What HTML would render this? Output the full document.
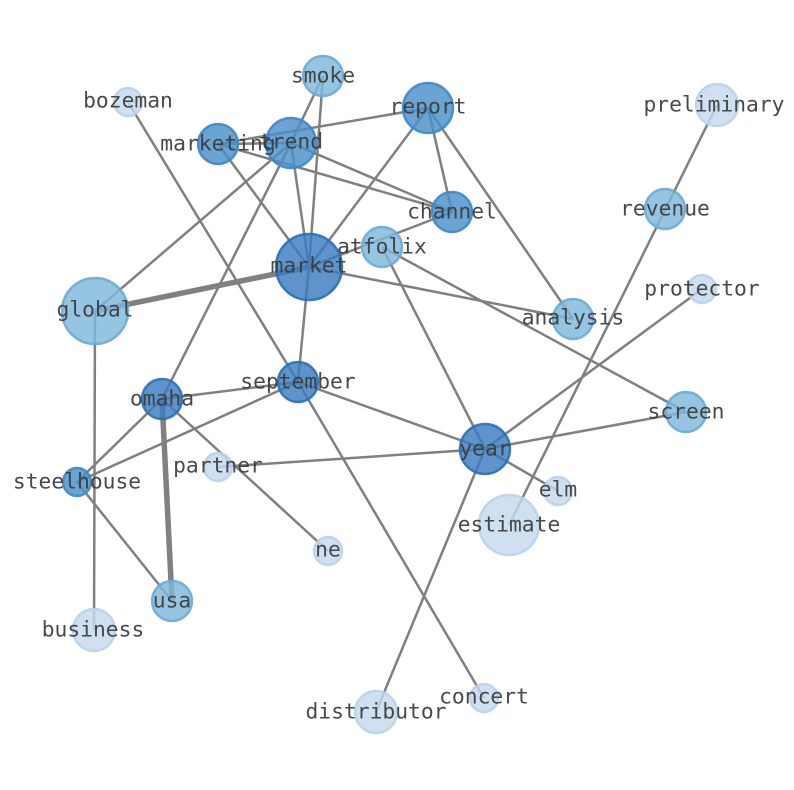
<!DOCTYPE html>
<html><head><meta charset="utf-8"><style>
html,body{margin:0;padding:0;background:#fff;}
svg{display:block;}
text{font-family:"DejaVu Sans Mono","Liberation Mono",monospace;font-size:21.3px;fill:#3a3a3a;fill-opacity:0.92;text-anchor:middle;dominant-baseline:central;}
.e{stroke:#808080;stroke-width:2.5;}
.t{stroke:#808080;stroke-width:5.5;}
.d{fill:#3a7dc0;stroke:#2a70b2;}
.m{fill:#4b90c8;stroke:#3d88c6;}
.l{fill:#7fb8dc;stroke:#6aabd6;}
.v{fill:#c4d9ee;stroke:#b9d2eb;}
circle{stroke-width:2.5;fill-opacity:0.82;stroke-opacity:0.9;}
</style></head><body>
<svg width="794" height="790" viewBox="0 0 794 790">
<g>
<line class="t" x1="309" y1="267" x2="95" y2="311"/>
<line class="t" x1="162" y1="399" x2="172" y2="601"/>
<line class="e" x1="323" y1="76" x2="291" y2="143"/>
<line class="e" x1="323" y1="76" x2="309" y2="267"/>
<line class="e" x1="218" y1="144" x2="428" y2="108"/>
<line class="e" x1="218" y1="144" x2="291" y2="143"/>
<line class="e" x1="218" y1="144" x2="452" y2="212"/>
<line class="e" x1="218" y1="144" x2="309" y2="267"/>
<line class="e" x1="291" y1="143" x2="452" y2="212"/>
<line class="e" x1="291" y1="143" x2="309" y2="267"/>
<line class="e" x1="291" y1="143" x2="95" y2="311"/>
<line class="e" x1="291" y1="143" x2="162" y2="399"/>
<line class="e" x1="428" y1="108" x2="452" y2="212"/>
<line class="e" x1="428" y1="108" x2="309" y2="267"/>
<line class="e" x1="428" y1="108" x2="573" y2="319"/>
<line class="e" x1="452" y1="212" x2="309" y2="267"/>
<line class="e" x1="382" y1="247" x2="485" y2="449"/>
<line class="e" x1="382" y1="247" x2="686" y2="412"/>
<line class="e" x1="309" y1="267" x2="573" y2="319"/>
<line class="e" x1="309" y1="267" x2="298" y2="382"/>
<line class="e" x1="128" y1="102" x2="298" y2="382"/>
<line class="e" x1="717" y1="105" x2="509" y2="525"/>
<line class="e" x1="702" y1="289" x2="485" y2="449"/>
<line class="e" x1="298" y1="382" x2="162" y2="399"/>
<line class="e" x1="298" y1="382" x2="77" y2="482"/>
<line class="e" x1="298" y1="382" x2="485" y2="449"/>
<line class="e" x1="298" y1="382" x2="484" y2="698"/>
<line class="e" x1="162" y1="399" x2="77" y2="482"/>
<line class="e" x1="162" y1="399" x2="328" y2="551"/>
<line class="e" x1="77" y1="482" x2="172" y2="601"/>
<line class="e" x1="95" y1="311" x2="94" y2="630"/>
<line class="e" x1="485" y1="449" x2="218" y2="467"/>
<line class="e" x1="485" y1="449" x2="686" y2="412"/>
<line class="e" x1="485" y1="449" x2="558" y2="491"/>
<line class="e" x1="485" y1="449" x2="376" y2="712"/>
</g>
<g>
<circle class="l" cx="323" cy="76" r="20"/>
<circle class="v" cx="128" cy="102" r="14"/>
<circle class="m" cx="428" cy="108" r="25"/>
<circle class="v" cx="717" cy="105" r="21"/>
<circle class="m" cx="218" cy="144" r="20"/>
<circle class="m" cx="291" cy="143" r="25"/>
<circle class="m" cx="452" cy="212" r="20"/>
<circle class="l" cx="665" cy="209" r="20"/>
<circle class="l" cx="382" cy="247" r="20"/>
<circle class="d" cx="309" cy="267" r="33"/>
<circle class="l" cx="95" cy="311" r="33"/>
<circle class="v" cx="702" cy="289" r="14"/>
<circle class="l" cx="573" cy="319" r="20"/>
<circle class="d" cx="298" cy="382" r="20"/>
<circle class="d" cx="162" cy="399" r="20"/>
<circle class="l" cx="686" cy="412" r="20"/>
<circle class="d" cx="485" cy="449" r="25"/>
<circle class="v" cx="218" cy="467" r="14"/>
<circle class="m" cx="77" cy="482" r="14"/>
<circle class="v" cx="558" cy="491" r="14"/>
<circle class="v" cx="509" cy="525" r="30"/>
<circle class="v" cx="328" cy="551" r="14"/>
<circle class="l" cx="172" cy="601" r="20"/>
<circle class="v" cx="94" cy="630" r="21"/>
<circle class="v" cx="484" cy="698" r="14"/>
<circle class="v" cx="376" cy="712" r="21"/>
</g>
<g>
<text x="323" y="76">smoke</text>
<text x="128" y="101">bozeman</text>
<text x="428" y="107">report</text>
<text x="714" y="105">preliminary</text>
<text x="218" y="144">marketing</text>
<text x="291" y="142">trend</text>
<text x="452" y="212">channel</text>
<text x="665" y="209">revenue</text>
<text x="382" y="247">atfolix</text>
<text x="309" y="266">market</text>
<text x="95" y="310">global</text>
<text x="702" y="289">protector</text>
<text x="573" y="318">analysis</text>
<text x="298" y="382">september</text>
<text x="162" y="399">omaha</text>
<text x="686" y="412">screen</text>
<text x="485" y="449">year</text>
<text x="218" y="466">partner</text>
<text x="77" y="482">steelhouse</text>
<text x="558" y="490">elm</text>
<text x="509" y="525">estimate</text>
<text x="328" y="550">ne</text>
<text x="172" y="601">usa</text>
<text x="93" y="630">business</text>
<text x="484" y="697">concert</text>
<text x="376" y="712">distributor</text>
</g>
</svg>
</body></html>
